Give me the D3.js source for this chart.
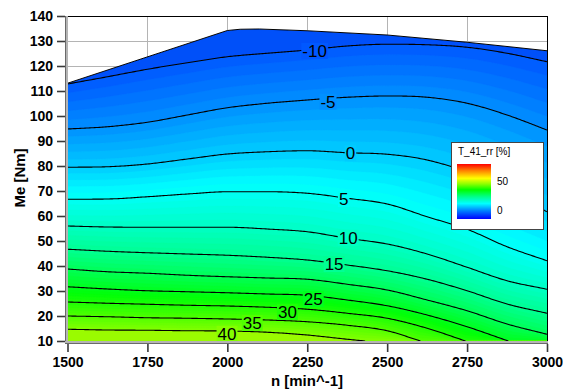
<!DOCTYPE html>
<html><head><meta charset="utf-8">
<script src="https://cdn.jsdelivr.net/npm/d3@7"></script>
<style>body{margin:0;background:#fff} text{font-family:Arial,'Liberation Sans',sans-serif}</style>
</head><body><svg id="c" width="563" height="390"></svg>
<script>
// ---------------- data ----------------
const nGrid = [1500,1625,1750,1875,2000,2125,2250,2375,2500,2625,2750,2875,3000];
const levels = [-10,-5,0,5,10,15,20,25,30,35,40];
const cM10n = [112.8,115.7,118.7,121.3,123.7,125.1,126.4,128.0,128.7,128.5,127.5,125.1,121.7];
const cM5n  = [94.8,95.7,97.5,100.4,103.3,105.1,106.4,107.5,108.0,107.5,105.1,100.4,94.4];
const c0    = [79.5,79.7,80.8,82.8,84.8,85.7,86.1,85.3,84.7,82.4,77.5,70.0,61.7];
const c5    = [66.7,66.8,67.7,68.8,69.7,69.7,69.1,67.1,64.8,59.7,54.7,47.7,42.1];
const c10   = [56.0,55.6,55.5,55.5,55.5,54.8,53.7,51.1,48.8,44.8,39.5,34.1,30.7];
const c15   = [46.7,45.9,45.3,44.8,44.3,43.5,42.4,40.4,38.1,34.7,30.1,24.8,21.1];
const c20   = [38.8,37.7,37.1,36.3,35.7,35.2,34.7,32.7,30.4,26.4,22.1,16.8,12.7];
const c25   = [31.7,30.8,30.1,29.7,29.3,28.8,28.3,26.4,24.1,20.4,15.7,null,null];
const c30   = [25.6,25.1,24.7,24.3,24.0,23.5,22.7,21.1,19.1,15.1,null,null,null];
const c35   = [20.0,19.7,19.3,19.1,18.8,18.4,17.7,16.3,14.1,null,null,null,null];
const c40   = [14.7,14.4,14.3,14.1,14.0,13.5,12.4,10.7,null,null,null,null,null];
const contourM = [cM10n,cM5n,c0,c5,c10,c15,c20,c25,c30,c35,c40];
// speed where a contour meets the lower axis (Me = 10)
const exitN = [null,null,null,null,null,null,null,2879,2745,2604,2431];

const boundaryN = [1500,2000,2040,2100,2250,2500,2750,3000];
const boundaryM = [113.1,134.2,134.7,134.8,134.1,132.4,129.5,126.1];

const labelLevels = [-10,-5,0,5,10,15,25,30,35,40];
const labelN = [2273,2315,2385,2364,2378,2334,2269,2188,2078,1999];
const labelM = [126.0,105.7,85.1,66.8,51.3,40.8,26.8,21.6,17.2,12.9];

const xTicks = [1500,1750,2000,2250,2500,2750,3000];
const yTicks = [10,20,30,40,50,60,70,80,90,100,110,120,130,140];
const legendTicks = [0,50];
const legendTitle = "T_41_rr [%]";

// ---------------- rendering ----------------
const svg = d3.select("#c");
const x = d3.scaleLinear().domain([1500,3000]).range([67.5,547]);
const y = d3.scaleLinear().domain([10,140]).range([341,16]);
const legY = d3.scaleLinear().domain([0,50]).range([210,181.7]);

const cmap = d3.scaleLinear()
  .domain([-13,-10,-5,0,4,10,15,20,27,35,40,45])
  .range(["#004cf6","#0058ff","#0090ff","#00ccff","#00ffff","#00ffc4","#00ff94","#00ff58","#00ff08","#50ff00","#84ff00","#a8f800"])
  .interpolate(d3.interpolateRgb).clamp(true);

function monotone(xs, ys){
  const n = xs.length, d = [], m = new Array(n);
  for(let i=0;i<n-1;i++) d.push((ys[i+1]-ys[i])/(xs[i+1]-xs[i]));
  m[0]=d[0]; m[n-1]=d[n-2];
  for(let i=1;i<n-1;i++){ m[i] = (d[i-1]*d[i]<=0) ? 0 : (d[i-1]+d[i])/2; }
  for(let i=0;i<n-1;i++){
    if(d[i]===0){m[i]=0;m[i+1]=0;continue;}
    const a=m[i]/d[i], b=m[i+1]/d[i], s=a*a+b*b;
    if(s>9){const t=3/Math.sqrt(s); m[i]=t*a*d[i]; m[i+1]=t*b*d[i];}
  }
  return v=>{
    if(v<=xs[0]) return ys[0];
    if(v>=xs[n-1]) return ys[n-1];
    let i=0; while(v>xs[i+1]) i++;
    const h=xs[i+1]-xs[i], t=(v-xs[i])/h, t2=t*t, t3=t2*t;
    return (2*t3-3*t2+1)*ys[i]+(t3-2*t2+t)*h*m[i]+(-2*t3+3*t2)*ys[i+1]+(t3-t2)*h*m[i+1];
  };
}

const curves = levels.map((L,i)=>{
  const xs=[], ys=[];
  nGrid.forEach((n,j)=>{ if(contourM[i][j]!=null){xs.push(n); ys.push(contourM[i][j]);} });
  if(exitN[i]!=null){ xs.push(exitN[i]); ys.push(10); }
  return {level:L, f:monotone(xs,ys), end: exitN[i]!=null ? exitN[i] : 3000};
});

const ns = d3.range(1500, 3000.001, 5);
const defs = svg.append("defs");
// envelope clip
const envPts = boundaryN.map((n,i)=>[x(n),y(boundaryM[i])]).concat([[x(3000),y(10)],[x(1500),y(10)]]);
defs.append("clipPath").attr("id","env").append("path").attr("d","M"+envPts.join("L")+"Z");

// grid
const grid = svg.append("g").attr("stroke","#b4b4b4").attr("stroke-width",1);
xTicks.slice(1,-1).forEach(t=>grid.append("line").attr("x1",Math.round(x(t))+0.5).attr("x2",Math.round(x(t))+0.5).attr("y1",y(140)).attr("y2",y(10)));
yTicks.slice(1,-1).forEach(t=>grid.append("line").attr("y1",Math.round(y(t))+0.5).attr("y2",Math.round(y(t))+0.5).attr("x1",x(1500)).attr("x2",x(3000)));

// fills
const fills = svg.append("g").attr("clip-path","url(#env)");
fills.append("path").attr("d","M"+envPts.join("L")+"Z").attr("fill",cmap(-12));
function regionPath(fn){
  const pts = ns.map(n=>[x(n), y(Math.max(10,fn(n)))]);
  pts.push([x(3000), y(10)+2],[x(1500), y(10)+2]);
  return "M"+pts.map(p=>p[0].toFixed(2)+","+p[1].toFixed(2)).join("L")+"Z";
}
for(let i=0;i<levels.length-1;i++){
  const A=curves[i].f, B=curves[i+1].f;
  for(let k=0;k<5;k++){
    const w=k/5;
    fills.append("path").attr("d",regionPath(n=>(1-w)*A(n)+w*B(n)))
      .attr("fill",cmap(levels[i]+k+0.5)).attr("stroke",cmap(levels[i]+k+0.5)).attr("stroke-width",0.3);
  }
}
fills.append("path").attr("d",regionPath(curves[levels.length-1].f)).attr("fill",cmap(43));

// contour lines
const lineG = svg.append("g").attr("clip-path","url(#env)");
const line = d3.line();
curves.forEach(c=>{
  const pts = ns.filter(n=>n<=c.end).map(n=>[x(n),y(c.f(n))]);
  if(c.end<3000) pts.push([x(c.end),y(10)]);
  lineG.append("path").attr("d",line(pts)).attr("fill","none").attr("stroke","#000").attr("stroke-width",1.1);
});
// boundary line
svg.append("path").attr("d",line(boundaryN.map((n,i)=>[x(n),y(boundaryM[i])])))
  .attr("fill","none").attr("stroke","#000").attr("stroke-width",1);

// contour labels
const labG = svg.append("g");
labelLevels.forEach((L,i)=>{
  const g = labG.append("g");
  const t = g.append("text").attr("x",x(labelN[i])).attr("y",y(labelM[i])).attr("dy","0.36em")
    .attr("text-anchor","middle").attr("font-size",17).attr("fill","#000").text(L);
  const bb = t.node().getBBox();
  g.insert("rect","text").attr("x",bb.x-1).attr("y",y(labelM[i])-8).attr("width",bb.width+2).attr("height",16)
    .attr("fill",cmap(L));
});

// frame: top and right
svg.append("line").attr("x1",x(1500)).attr("x2",x(3000)+0.5).attr("y1",16.5).attr("y2",16.5).attr("stroke","#000");
svg.append("line").attr("x1",547.5).attr("x2",547.5).attr("y1",16).attr("y2",342).attr("stroke","#000");

// axes
const fmt = d3.format("d");
const yAxis = svg.append("g").attr("transform","translate(65,0)")
  .call(d3.axisLeft(y).tickValues(yTicks).tickFormat(fmt).tickSize(8).tickPadding(4));
const xAxis = svg.append("g").attr("transform","translate(0,344)")
  .call(d3.axisBottom(x).tickValues(xTicks).tickFormat(fmt).tickSize(8).tickPadding(5));
[yAxis,xAxis].forEach(a=>{
  a.select(".domain").remove();
  a.selectAll(".tick line").attr("stroke","#3a3a3a").attr("stroke-width",1.6);
  a.selectAll(".tick text").attr("font-size",14).attr("font-weight","bold").attr("fill","#000")
   .style("font-family","Arial,'Liberation Sans',sans-serif");
});
// gray axis bars
svg.append("rect").attr("x",65).attr("y",16).attr("width",3).attr("height",328).attr("fill","#b4b4b4");
svg.append("line").attr("x1",65.5).attr("x2",65.5).attr("y1",16).attr("y2",344).attr("stroke","#6a6a6a");
svg.append("rect").attr("x",65).attr("y",341).attr("width",483).attr("height",3).attr("fill","#b4b4b4");
svg.append("line").attr("x1",65).attr("x2",548).attr("y1",343.5).attr("y2",343.5).attr("stroke","#6a6a6a");

// axis titles
svg.append("text").attr("x",307).attr("y",386).attr("text-anchor","middle").attr("font-size",15)
  .attr("font-weight","bold").text("n [min^-1]");
svg.append("text").attr("transform","translate(25,178) rotate(-90)").attr("text-anchor","middle")
  .attr("font-size",15).attr("font-weight","bold").text("Me [Nm]");

// legend
const leg = svg.append("g");
leg.append("rect").attr("x",451.5).attr("y",142.5).attr("width",92).attr("height",87)
  .attr("fill","#fff").attr("stroke","#444");
leg.append("text").attr("x",458).attr("y",155).attr("font-size",10).text(legendTitle);
const gr = defs.append("linearGradient").attr("id","lg").attr("x1",0).attr("y1",0).attr("x2",0).attr("y2",1);
[["0%","#ff0000"],["12%","#ff8000"],["26%","#ffff00"],["36%","#90ff00"],["47%","#00ff00"],
 ["60%","#00ff90"],["72%","#00ffff"],["85%","#0080ff"],["100%","#0000ff"]]
 .forEach(s=>gr.append("stop").attr("offset",s[0]).attr("stop-color",s[1]));
leg.append("rect").attr("x",457).attr("y",164).attr("width",34).attr("height",55).attr("fill","url(#lg)");
legendTicks.forEach(t=>leg.append("text").attr("x",497).attr("y",legY(t)).attr("dy","0.36em")
  .attr("font-size",10).text(t));
</script></body></html>
